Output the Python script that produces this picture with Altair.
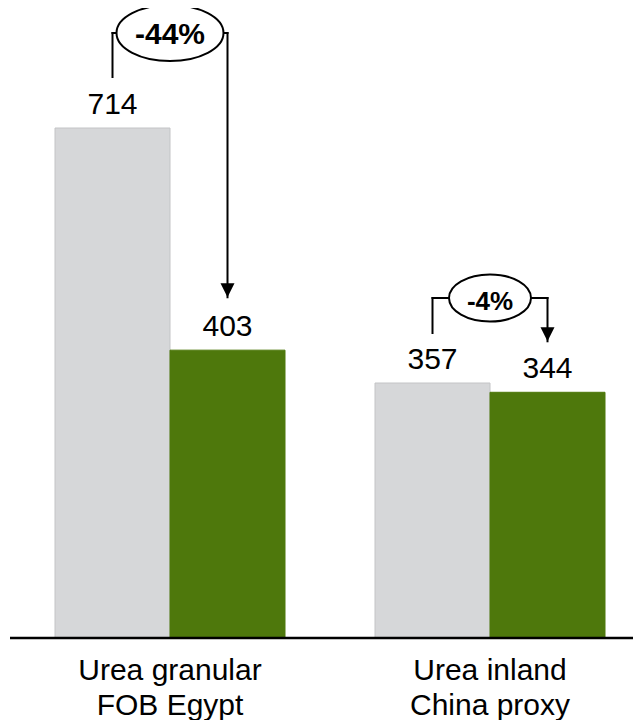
import altair as alt
import pandas as pd

# ---- data ----
categories = ["Urea granular\nFOB Egypt", "Urea inland\nChina proxy"]
before = [714, 357]
after = [403, 344]

# ---- style / layout constants ----
GREY = "#d6d7d9"
GREY_EDGE = "#c3c4c6"
GREEN = "#4e780c"
FONT = "Liberation Sans"

W, H = 623, 630
X_MIN = -0.5
PX_PER_GROUP = 320
X_MAX = X_MIN + W / PX_PER_GROUP
Y_MAX = 882
U = Y_MAX / H            # data units per pixel
BW = 115 / PX_PER_GROUP  # bar width in group units

# per-annotation styling (pixels)
ANN_STYLE = [
    dict(level_px=95, leg_px=51, tip_px=53, w=107, h=56, font=30, dy=11),
    dict(level_px=85, leg_px=50, tip_px=51, w=82, h=47, font=26, dy=12),
]

xs = alt.Scale(domain=[X_MIN, X_MAX], nice=False, zero=False)
ys = alt.Scale(domain=[0, Y_MAX], nice=False, zero=False)


def X(f):
    return alt.X(f, scale=xs, axis=None)


def Y(f):
    return alt.Y(f, scale=ys, axis=None)


def ellipse_path(ry):
    k = 0.5523
    return (f"M -1 0 C -1 {-k*ry:.4f} {-k} {-ry:.4f} 0 {-ry:.4f} "
            f"C {k} {-ry:.4f} 1 {-k*ry:.4f} 1 0 "
            f"C 1 {k*ry:.4f} {k} {ry:.4f} 0 {ry:.4f} "
            f"C {-k} {ry:.4f} -1 {k*ry:.4f} -1 0 Z")


ARROW = "M -1 -2 L 1 -2 L 0 0 Z"

# ---- tables built from the data ----
bar_rows = []
for g, (b, a) in enumerate(zip(before, after)):
    bar_rows.append(dict(g=g, x0=g - BW, x1=g, xc=g - BW / 2, v=b, fill=GREY, edge=GREY_EDGE))
    bar_rows.append(dict(g=g, x0=g, x1=g + BW, xc=g + BW / 2, v=a, fill=GREEN, edge=GREEN))
bars_df = pd.DataFrame(bar_rows)

cat_df = pd.DataFrame({"g": list(range(len(categories))), "label": categories, "y": 0})

bars = alt.Chart(bars_df).mark_rect(strokeWidth=1).encode(
    x=X("x0:Q"), x2="x1:Q", y=Y("v:Q"), y2=alt.datum(0),
    fill=alt.Fill("fill:N", scale=None),
    stroke=alt.Stroke("edge:N", scale=None),
)

values = alt.Chart(bars_df).mark_text(
    font=FONT, fontSize=30, dy=-14, baseline="alphabetic", color="black"
).encode(x=X("xc:Q"), y=Y("v:Q"), text="v:Q")

base_df = pd.DataFrame({"a": [X_MIN], "b": [X_MAX], "y": [0]})
baseline = alt.Chart(base_df).mark_rule(color="black", strokeWidth=2.5).encode(
    x=X("a:Q"), x2="b:Q", y=Y("y:Q")
)

cats = alt.Chart(cat_df).mark_text(
    font=FONT, fontSize=30, lineBreak="\n", lineHeight=35, dy=42,
    baseline="alphabetic", color="black"
).encode(x=X("g:Q"), y=Y("y:Q"), text="label:N")

layers = [bars, values, baseline, cats]

for g, (b, a) in enumerate(zip(before, after)):
    st = ANN_STYLE[g]
    xg = g - BW / 2
    xn = g + BW / 2
    level = b + st["level_px"] * U
    leg = b + st["leg_px"] * U
    tip = a + st["tip_px"] * U
    segs = pd.DataFrame({
        "x": [xg, xg, xn], "x2": [xg, xn, xn],
        "y": [leg, level, level], "y2": [level, level, tip],
    })
    layers.append(
        alt.Chart(segs).mark_rule(color="black", strokeWidth=2, strokeCap="square").encode(
            x=X("x:Q"), x2="x2:Q", y=Y("y:Q"), y2="y2:Q"
        )
    )
    tip_df = pd.DataFrame({"x": [xn], "y": [tip]})
    layers.append(
        alt.Chart(tip_df).mark_point(
            shape=ARROW, size=196, filled=True, color="black", opacity=1, strokeWidth=0
        ).encode(x=X("x:Q"), y=Y("y:Q"))
    )
    pct = round((a / b - 1) * 100)
    ell_df = pd.DataFrame({"x": [g], "y": [level], "t": [f"{pct}%"]})
    layers.append(
        alt.Chart(ell_df).mark_point(
            shape=ellipse_path(st["h"] / st["w"]), size=st["w"] ** 2, filled=True,
            fill="white", stroke="black", strokeWidth=2, opacity=1
        ).encode(x=X("x:Q"), y=Y("y:Q"))
    )
    layers.append(
        alt.Chart(ell_df).mark_text(
            font=FONT, fontSize=st["font"], fontWeight="bold", dy=st["dy"],
            baseline="alphabetic", color="black"
        ).encode(x=X("x:Q"), y=Y("y:Q"), text="t:N")
    )

chart = alt.layer(*layers).properties(
    width=W, height=H,
    padding={"left": 2, "top": 0, "right": 0, "bottom": 82},
    autosize=alt.AutoSizeParams(type="none"),
).configure_view(stroke=None)

chart.save("out.html", embed_options={"renderer": "svg", "actions": False})
